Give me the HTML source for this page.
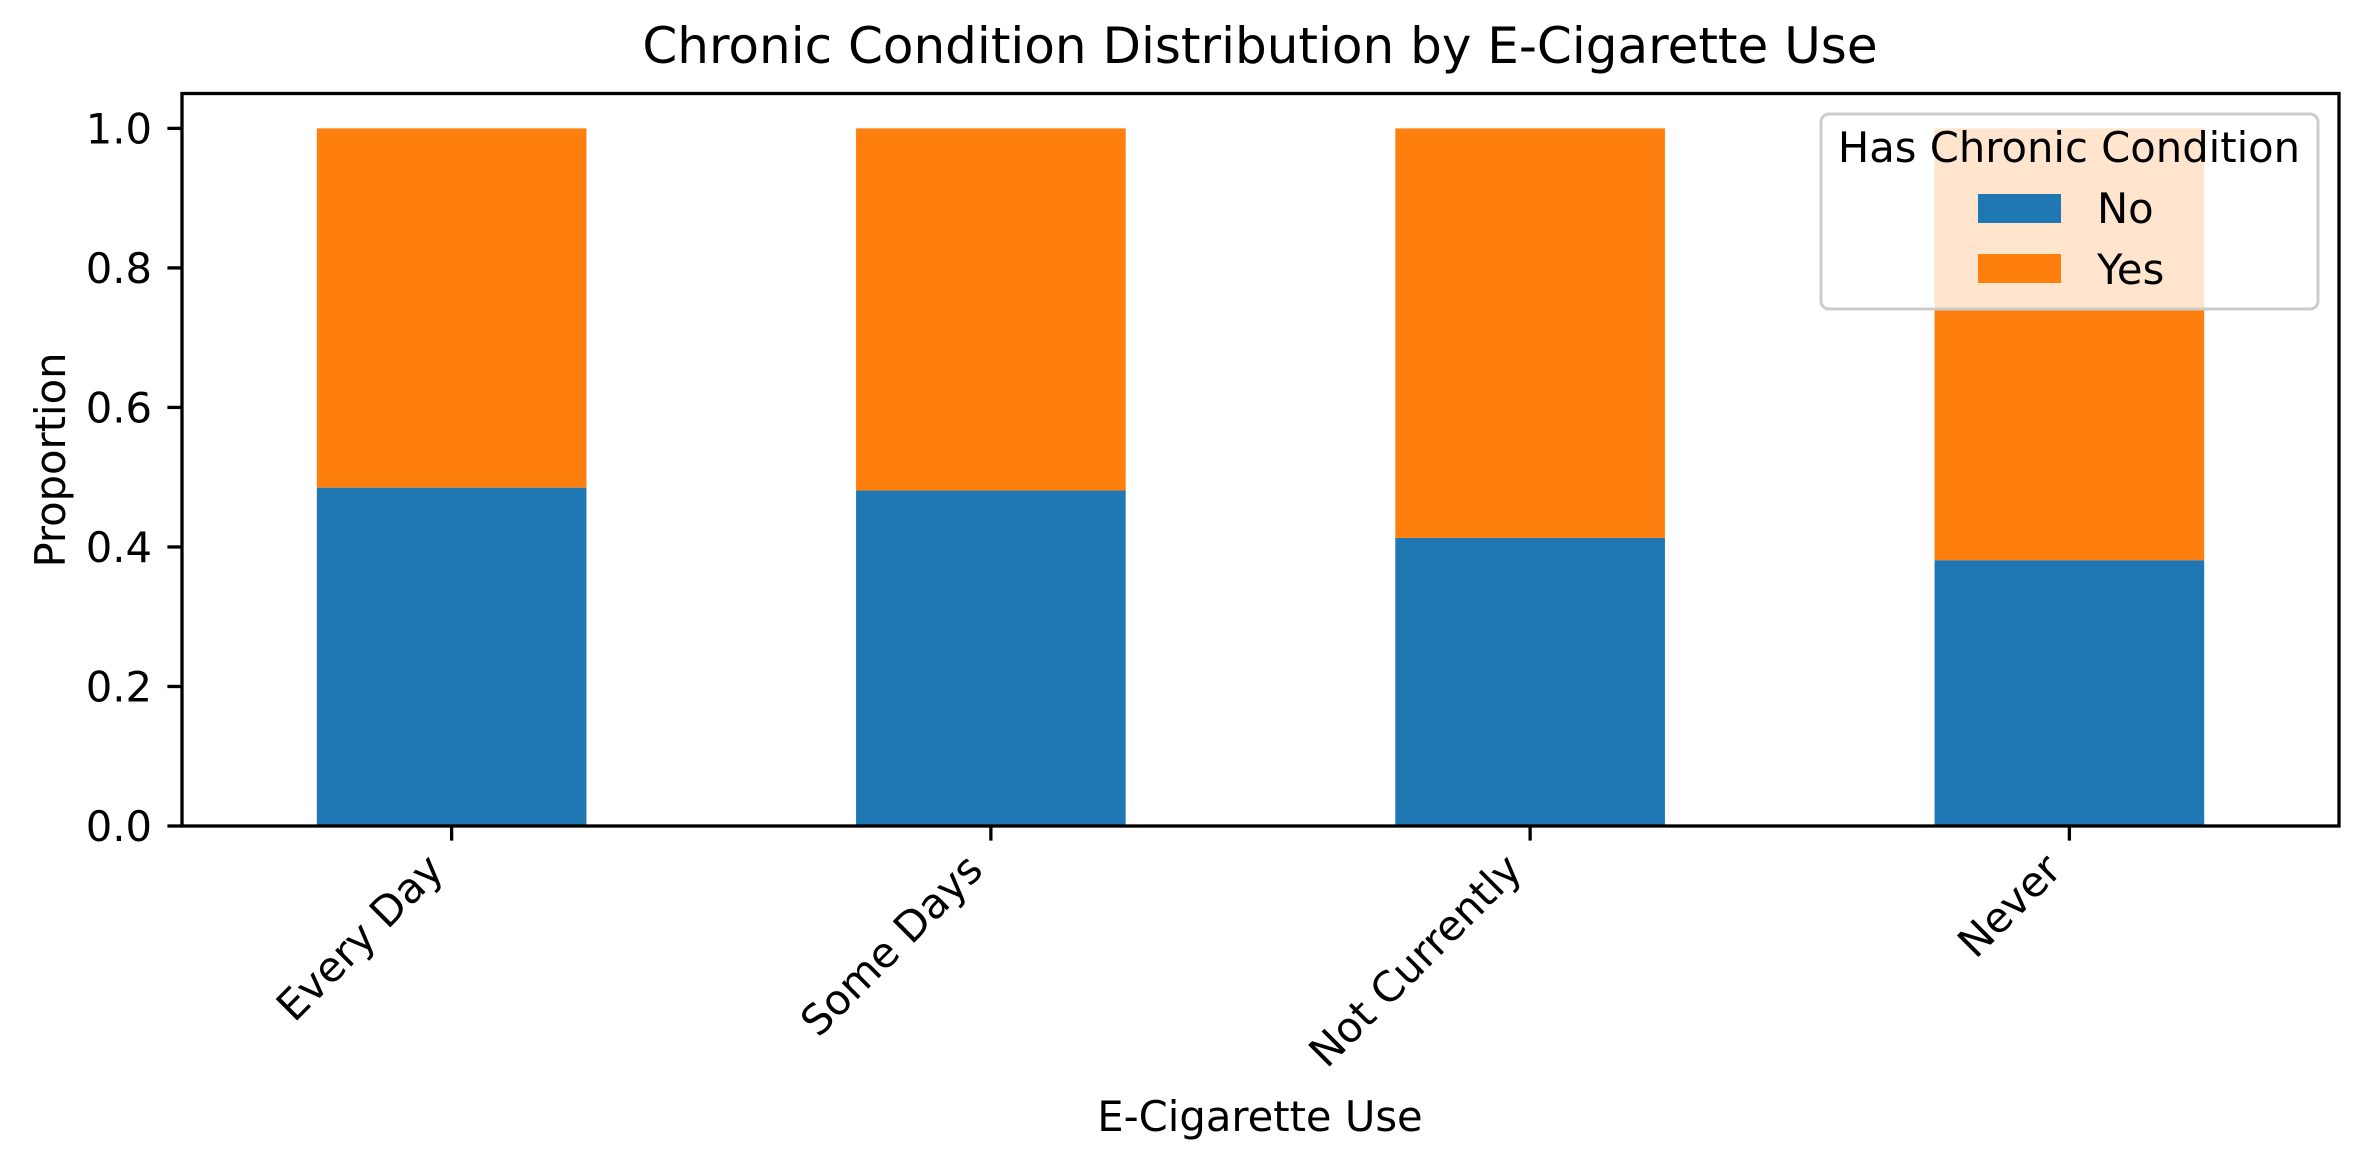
<!DOCTYPE html>
<html><head><meta charset="utf-8"><style>
html,body{margin:0;padding:0;background:#fff;}
svg{display:block;font-family:"DejaVu Sans","Liberation Sans",sans-serif;}
</style></head><body>
<svg id="chart" width="2367" height="1168" viewBox="0 0 2367 1168" xmlns="http://www.w3.org/2000/svg">
<rect width="2367" height="1168" fill="#fff"/>
<text x="1260" y="63" font-size="50" text-anchor="middle">Chronic Condition Distribution by E-Cigarette Use</text>
<g id="bars"></g>
<g id="axes"></g>
<text x="1260" y="1131" font-size="41.7" text-anchor="middle">E-Cigarette Use</text>
<text transform="translate(65,460) rotate(-90)" font-size="41.7" text-anchor="middle">Proportion</text>
<g>
<rect x="1821" y="114" width="497" height="195" rx="8" fill="#fff" fill-opacity="0.8" stroke="#cccccc" stroke-width="3"/>
<text x="2069" y="162" font-size="41.7" text-anchor="middle">Has Chronic Condition</text>
<rect x="1978" y="194" width="83" height="29" fill="#1f77b4"/>
<text x="2097" y="223" font-size="41.7">No</text>
<rect x="1978" y="254" width="83" height="29" fill="#ff7f0e"/>
<text x="2097" y="284" font-size="41.7">Yes</text>
</g>
</svg>
<script>
const categories = ["Every Day", "Some Days", "Not Currently", "Never"];
const noValues = [0.485, 0.481, 0.413, 0.381];
const yesValues = [0.515, 0.519, 0.587, 0.619];
const yTicks = [0.0, 0.2, 0.4, 0.6, 0.8, 1.0];
const yTickLabels = ["0.0", "0.2", "0.4", "0.6", "0.8", "1.0"];

const NS = "http://www.w3.org/2000/svg";
const L = 182, R = 2339, T = 93.5, B = 826;
const yMin = 0, yMax = 1.05;
function yScale(v){ return B - (v - yMin) / (yMax - yMin) * (B - T); }
const band = (R - L) / categories.length;
function xCenter(i){ return L + band * (i + 0.5); }
const barW = band * 0.5;

function mk(tag, attrs, parent){
  const e = document.createElementNS(NS, tag);
  for (const k in attrs) e.setAttribute(k, attrs[k]);
  parent.appendChild(e);
  return e;
}
const bars = document.getElementById("bars");
const axes = document.getElementById("axes");

categories.forEach((c, i) => {
  const x = xCenter(i) - barW / 2;
  const b1 = mk("rect", {x: x, y: yScale(noValues[i]), width: barW, height: yScale(0) - yScale(noValues[i]), fill: "#1f77b4"}, bars);
  
  
  const top = noValues[i] + yesValues[i];
  const b2 = mk("rect", {x: x, y: yScale(top), width: barW, height: yScale(noValues[i]) - yScale(top), fill: "#ff7f0e"}, bars);
  
  
});

const frame = mk("rect", {x: L, y: T, width: R - L, height: B - T, fill: "none", stroke: "#000", "stroke-width": 3.3}, axes);



yTicks.forEach((v, i) => {
  const y = yScale(v);
  const t = mk("line", {x1: L - 14.6, x2: L, y1: y, y2: y, stroke: "#000", "stroke-width": 3.3}, axes);
  
  
  const lb = mk("text", {x: L - 30, y: y + 15, "font-size": 41.7, "text-anchor": "end"}, axes);
  lb.textContent = yTickLabels[i];
  
  
});

categories.forEach((c, i) => {
  const x = xCenter(i);
  const t = mk("line", {x1: x, x2: x, y1: B, y2: B + 14.6, stroke: "#000", "stroke-width": 3.3}, axes);
  
  
  const ax = x - 6, ay = 872;
  const lb = mk("text", {x: ax, y: ay, "font-size": 41.7, "text-anchor": "end", transform: "rotate(-45 " + ax + " " + ay + ")"}, axes);
  lb.textContent = c;
  
  
});
</script>
</body></html>
